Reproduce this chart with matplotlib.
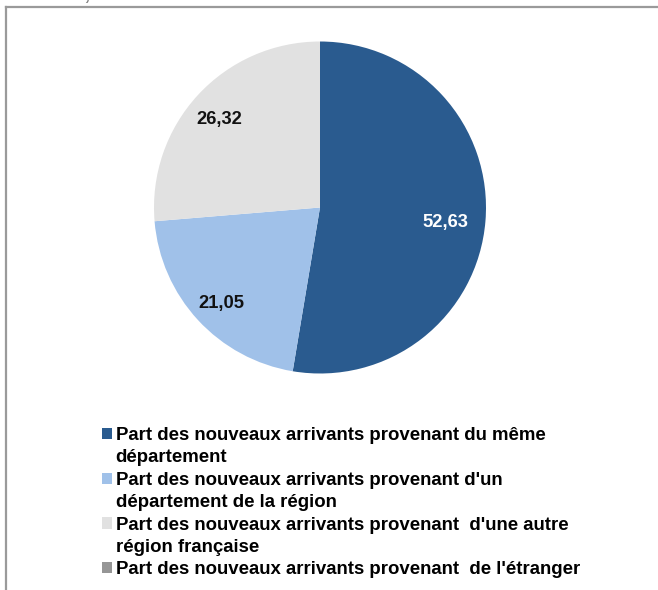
import matplotlib
matplotlib.use("Agg")
import matplotlib.pyplot as plt
from matplotlib.patches import Patch
from matplotlib.lines import Line2D
from matplotlib.font_manager import FontProperties

labels = [
    "Part des nouveaux arrivants provenant du même\ndépartement",
    "Part des nouveaux arrivants provenant d'un\ndépartement de la région",
    "Part des nouveaux arrivants provenant  d'une autre\nrégion française",
    "Part des nouveaux arrivants provenant  de l'étranger",
]
values = [52.63, 21.05, 26.32, 0.0]
colors = ["#2a5b8f", "#a0c1e9", "#e1e1e1", "#969696"]
label_colors = ["white", "#111111", "#111111", "#111111"]
label_radius = [0.76, 0.81, 0.825, 0.8]

W, H = 658, 590
fig = plt.figure(figsize=(W / 100, H / 100), dpi=100)
fig.patch.set_facecolor("white")

bold = FontProperties(family=["Liberation Sans", "DejaVu Sans"], weight="bold")

# frame (left and top borders)
fig.add_artist(Line2D([6 / W, 6 / W], [0, 1 - 7 / H], color="#9a9a9a", lw=1.6))
fig.add_artist(Line2D([6 / W, 1], [1 - 7 / H, 1 - 7 / H], color="#9a9a9a", lw=1.6))

# cropped source text at top
src = bold.copy()
src.set_style("italic")
src.set_size(13)
fig.text(8 / W, 1 - 4 / H, "Urbadoc , 2017", color="#7f7f7f",
         fontproperties=src, ha="left", va="bottom")

cx, cy, r = 320, 207.5, 166
ax = fig.add_axes([(cx - r) / W, (H - cy - r) / H, 2 * r / W, 2 * r / H])

def fmt(p):
    return "" if p < 0.01 else f"{p:.2f}".replace(".", ",")

wedges, texts, autotexts = ax.pie(values, colors=colors, startangle=90,
                                  counterclock=False, autopct=fmt,
                                  pctdistance=0.8,
                                  wedgeprops=dict(linewidth=0))
pl = bold.copy()
pl.set_size(13.2)
for t, c, rd in zip(autotexts, label_colors, label_radius):
    t.set_color(c)
    t.set_fontproperties(pl)
    t.set_va("center_baseline")
    x, y = t.get_position()
    t.set_position((x * rd / 0.8, y * rd / 0.8 - 3 / r))
ax.set_aspect("equal")
ax.set_xlim(-1, 1)
ax.set_ylim(-1, 1)
ax.axis("off")

# legend: one row per text line, marker only on the first line of each entry
lp = bold.copy()
lp.set_size(13.4)
handles, rows = [], []
for lab, col in zip(labels, colors):
    for i, line in enumerate(lab.split("\n")):
        if i == 0:
            handles.append(Patch(facecolor=col, edgecolor="none"))
        else:
            handles.append(Patch(facecolor="none", edgecolor="none"))
        rows.append(line)
leg = fig.legend(handles, rows, loc="upper left",
                 bbox_to_anchor=(102 / W, 1 - 427 / H), frameon=False,
                 prop=lp,
                 handlelength=0.55, handleheight=0.55, handletextpad=0.18,
                 labelspacing=0.29, borderaxespad=0, borderpad=0)

fig.savefig("out.png", dpi=100, facecolor="white")
